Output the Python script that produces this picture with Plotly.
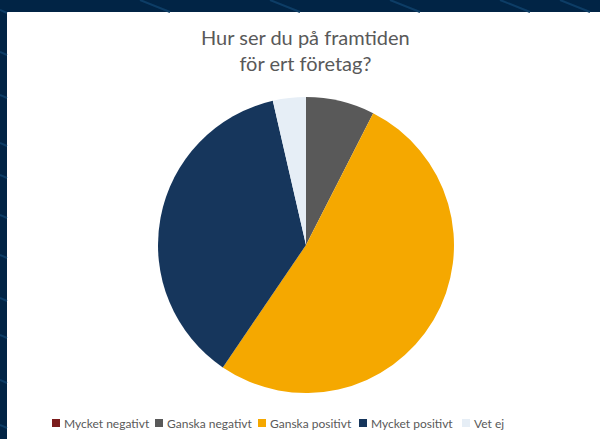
import plotly.graph_objects as go

categories = ["Mycket negativt", "Ganska negativt", "Ganska positivt", "Mycket positivt", "Vet ej"]
values = [0, 7.5, 52.0, 36.9, 3.6]
colors = ["#7b1c1c", "#595959", "#f5a800", "#16365c", "#e6eef6"]
title_lines = ["Hur ser du på framtiden", "för ert företag?"]

W, H = 600, 439
cx, cy, r = 306, 245, 148

fig = go.Figure()
fig.add_trace(go.Pie(
    labels=categories, values=values, sort=False, direction="clockwise", rotation=0,
    marker=dict(colors=colors, line=dict(width=0)), textinfo="none", hoverinfo="label+percent",
    showlegend=False,
    domain=dict(x=[(cx - r) / W, (cx + r) / W], y=[(H - cy - r) / H, (H - cy + r) / H]),
))

shapes = [
    dict(type="rect", xref="paper", yref="paper", x0=7 / W, x1=1.01, y0=-0.01, y1=(H - 12) / H,
         fillcolor="white", line=dict(width=0), layer="below"),
]
# decorative diagonal lines in the background strip
for x0 in [140, 270, 390, 500, 560]:
    shapes.append(dict(type="line", xref="paper", yref="paper", x0=x0 / W, x1=(x0 + 30) / W,
                       y0=1, y1=(H - 12) / H, line=dict(color="#0d3d66", width=2), layer="below"))
for yy in [10, 52, 95, 143, 175, 215, 255, 298, 335, 380, 425]:
    shapes.append(dict(type="line", xref="paper", yref="paper", x0=0, x1=7 / W,
                       y0=(H - yy) / H, y1=(H - yy - 3) / H, line=dict(color="#0d3d66", width=2), layer="below"))

annotations = [
    dict(text="<br>".join(title_lines), x=305 / W, y=(H - 23) / H, xref="paper", yref="paper",
         xanchor="center", yanchor="top", showarrow=False,
         font=dict(family="Lato, Open Sans, sans-serif", size=20, color="#595959")),
]
legend_sq = [52, 155, 258, 359, 462]
ly = 423
for cat, col, lx in zip(categories, colors, legend_sq):
    shapes.append(dict(type="rect", xref="paper", yref="paper", x0=lx / W, x1=(lx + 8) / W,
                       y0=(H - ly - 4) / H, y1=(H - ly + 4) / H, fillcolor=col, line=dict(width=0)))
    annotations.append(dict(
        text=cat, x=(lx + 10) / W, y=(H - ly) / H,
        xref="paper", yref="paper", xanchor="left", yanchor="middle", showarrow=False,
        font=dict(family="Lato, Open Sans, sans-serif", size=12, color="#595959")))

fig.update_layout(
    width=W, height=H, margin=dict(l=0, r=0, t=0, b=0),
    paper_bgcolor="#012445", plot_bgcolor="white",
    shapes=shapes, annotations=annotations,
)
fig.write_html("out.html", config={"displayModeBar": False},
               post_script="document.body.style.margin='0';document.body.style.background='#012445';")
